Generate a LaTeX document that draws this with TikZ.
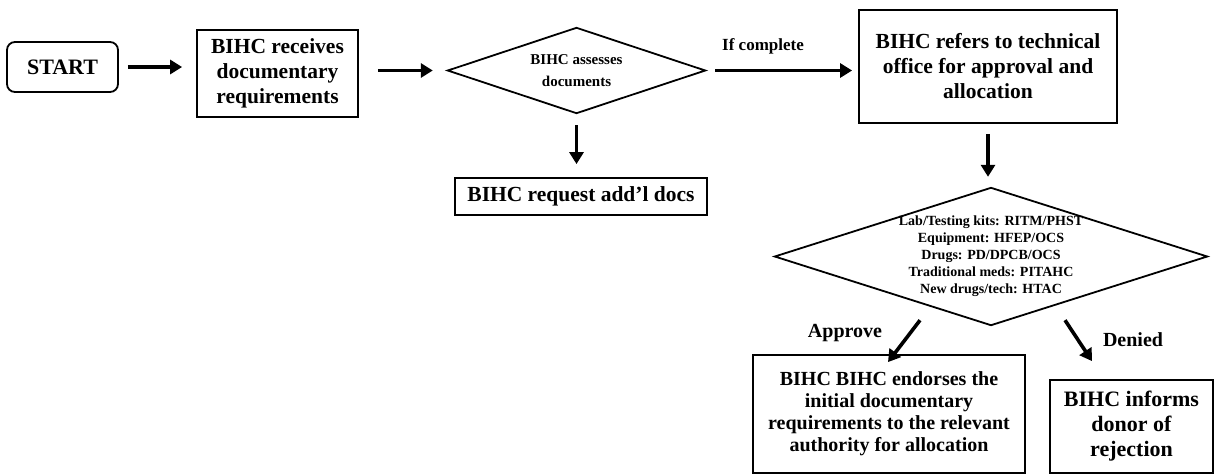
\documentclass[tikz,border=0pt]{standalone}
\usepackage{fontspec}
\setmainfont{Liberation Serif}
\usetikzlibrary{arrows.meta,calc}
\begin{document}
\begin{tikzpicture}[x=1pt,y=-1pt,
  box/.style={draw, line width=1.8pt, align=center, inner sep=2pt,
    font=\bfseries\fontsize{21.5}{25}\selectfont},
  startbox/.style={draw, line width=1.8pt, rounded corners=8pt, inner sep=2pt,
    font=\bfseries\fontsize{22}{25}\selectfont},
  dia/.style={draw=none, align=center, inner sep=0pt},
  dline/.style={line width=1.8pt, line join=miter},
  arr/.style={line width=3.6pt, -{Triangle[length=12pt,width=14pt]}},
  lbl/.style={font=\bfseries\fontsize{20}{22}\selectfont}]
\useasboundingbox (0,0) rectangle (1214,475);

\node[startbox, minimum width=111pt, minimum height=50pt] (start) at (62.5,67) {START};
\node[box, minimum width=161pt, minimum height=87pt] (recv) at (277.5,73.5)
  {BIHC receives\\documentary\\requirements};
\node[dia, minimum width=257pt, minimum height=85pt,
  font=\bfseries\fontsize{15}{22}\selectfont] (assess) at (576.5,70.5)
  {BIHC assesses\\documents};
\draw[dline] (assess.north) -- (assess.east) -- (assess.south) -- (assess.west) -- cycle;
\node[box, minimum width=252pt, minimum height=37pt] (req) at (581,196.5)
  {BIHC request add'l docs};
\node[box, minimum width=258pt, minimum height=113pt] (refer) at (988,66.5)
  {BIHC refers to technical\\office for approval and\\allocation};
\node[dia, minimum width=432pt, minimum height=137pt,
  font=\bfseries\fontsize{14}{17}\selectfont] (tech) at (991,256.5)
  {Lab/Testing kits: RITM/PHST\\Equipment: HFEP/OCS\\Drugs: PD/DPCB/OCS\\Traditional meds: PITAHC\\New drugs/tech: HTAC};
\draw[dline] (tech.north) -- (tech.east) -- (tech.south) -- (tech.west) -- cycle;
\node[box, minimum width=272pt, minimum height=118pt,
  font=\bfseries\fontsize{20}{22}\selectfont] (endorse) at (889,414)
  {BIHC BIHC endorses the\\initial documentary\\requirements to the relevant\\authority for allocation};
\node[box, minimum width=163pt, minimum height=93pt,
  font=\bfseries\fontsize{22}{25}\selectfont] (inform) at (1131.5,426.5)
  {BIHC informs\\donor of\\rejection};

\node[lbl, font=\bfseries\fontsize{17}{20}\selectfont] (ifc) at (763,46) {If complete};
\node[lbl] (appr) at (845,333) {Approve};
\node[lbl] (den) at (1133,340) {Denied};

\coordinate (ap0) at ($(tech.south)+(-71,-5)$);
\coordinate (dn0) at ($(tech.south)+(74,-5)$);

\draw[arr] ($(start.east)+(9,0)$) -- ($(recv.west |- start.east)+(-14,0)$);
\draw[arr] ($(recv.east |- assess.west)+(19,0)$) -- ($(assess.west)+(-15,0)$);
\draw[arr] ($(assess.south)+(0,12)$) -- ($(assess.south |- req.north)+(0,-13)$);
\draw[arr] ($(assess.east)+(10,0)$) -- ($(refer.west |- assess.east)+(-6,0)$);
\draw[arr] ($(refer.south)+(0,10)$) -- ($(refer.south |- tech.north)+(0,-11)$);
\draw[arr] (ap0) -- ($(endorse.north)+(-1,8)$);
\draw[arr] (dn0) -- ($(inform.north)+(-39.5,-18)$);
\end{tikzpicture}
\end{document}
